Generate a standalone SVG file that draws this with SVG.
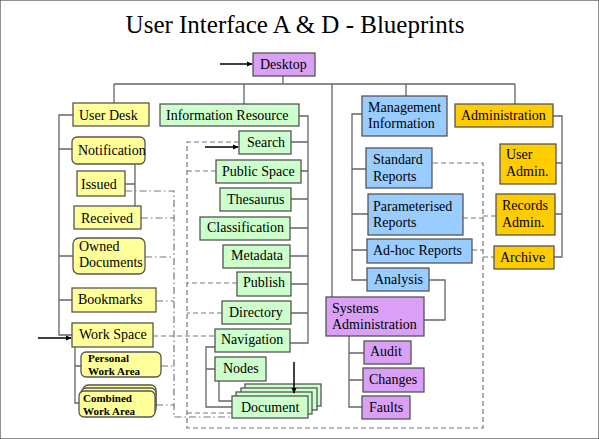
<svg xmlns="http://www.w3.org/2000/svg" width="599" height="439" viewBox="0 0 599 439">
<style>
text{font-family:"Liberation Serif","Times New Roman",serif;font-size:14px;fill:#000}
.t{font-size:25px}
.s{font-size:11px;font-weight:bold}
rect{stroke:#555;stroke-width:1.3}
.y{fill:#FFFF99}.g{fill:#CCFFCC}.b{fill:#99CCFF}.o{fill:#FFCC00}.p{fill:#D9A0F5}
.c{fill:none;stroke:#666;stroke-width:1.3}
.d{fill:none;stroke:#777;stroke-width:1.2;stroke-dasharray:5 3}
.dd{fill:none;stroke:#777;stroke-width:1.2;stroke-dasharray:7 3 1.5 3}
.a{fill:none;stroke:#000;stroke-width:1.5;marker-end:url(#ah)}
</style>
<defs>
<marker id="ah" viewBox="0 0 8 8" refX="7" refY="4" markerWidth="6" markerHeight="6" orient="auto" markerUnits="userSpaceOnUse"><path d="M0,0.5 L8,4 L0,7.5 Z" fill="#000"/></marker>
</defs>
<rect width="599" height="439" fill="#fff" stroke="none"/>
<text class="t" x="295" y="33" text-anchor="middle">User Interface A &amp; D - Blueprints</text>

<g id="connectors">
<path class="c" d="M114,84 H515 M283,76 V84 M114,84 V103 M244,84 V104 M332,84 V297 M406,84 V96 M515,84 V104"/>
<path class="c" d="M73,115 H59 V335 H72 M59,149 H72 M59,256 H73 M59,300 H72"/>
<path class="c" d="M135,164 V206 M125,184 H135"/>
<path class="c" d="M75,347 V403 H79 M75,366 H81"/>
<path class="c" d="M299,116 H308 V343 H290 M291,142 H308 M301,171 H308 M291,199 H308 M290,228 H308 M290,256 H308 M291,284 H308 M291,313 H308"/>
<path class="c" d="M215,347 H206 V407 H232 M206,369 H215 M219,381 V401 H236"/>
<path class="c" d="M362,114 H352 V280 H367 M352,169 H366 M352,214 H368 M352,250 H367"/>
<path class="c" d="M429,280 H445 V320 H424"/>
<path class="c" d="M349,336 V407 H362 M349,353 H364 M349,380 H363"/>
<path class="c" d="M553,116 H562 V257 H554 M556,163 H562 M555,214 H562"/>
<path class="d" d="M239,142 H187 V428 H483 V163 H432 M216,171 H187 M237,283 H187 M222,313 H187 M232,413 H187 M463,218 H483 M483,216 H496 M472,250 H483 M483,257 H494"/>
<path class="d" d="M153,336 H215"/>
<path class="dd" d="M125,191 H174 V417 H232 M141,218 H174 M145,257 H174 M156,301 H174 M161,366 H174 M156,405 H174"/>
</g>

<g id="desktop"><rect class="p" x="253" y="53" width="62" height="23"/><text x="260" y="69">Desktop</text></g>

<g id="user-desk"><rect class="y" x="73" y="103" width="76" height="23"/><text x="79" y="120">User Desk</text></g>
<g id="notification"><rect class="y" x="72" y="137" width="73" height="27" rx="5"/><text x="78" y="155">Notification</text></g>
<g id="issued"><rect class="y" x="77" y="171" width="48" height="25"/><text x="81" y="189">Issued</text></g>
<g id="received"><rect class="y" x="74" y="206" width="67" height="23"/><text x="81" y="223">Received</text></g>
<g id="owned-documents"><rect class="y" x="73" y="238" width="72" height="36" rx="6"/><text x="79" y="251">Owned</text><text x="79" y="267">Documents</text></g>
<g id="bookmarks"><rect class="y" x="72" y="288" width="84" height="24"/><text x="78" y="304">Bookmarks</text></g>
<g id="work-space"><rect class="y" x="72" y="323" width="81" height="24"/><text x="79" y="339">Work Space</text></g>
<g id="personal-work-area"><rect class="y" x="81" y="352" width="80" height="25" rx="5"/><text class="s" x="88" y="362">Personal</text><text class="s" x="88" y="375">Work Area</text></g>
<g id="combined-work-area"><rect class="y" x="83" y="385" width="73" height="26" rx="5"/><rect class="y" x="81" y="388" width="75" height="26" rx="5"/><rect class="y" x="79" y="391" width="76" height="26" rx="5"/><text class="s" x="83" y="402">Combined</text><text class="s" x="83" y="415">Work Area</text></g>

<g id="information-resource"><rect class="g" x="160" y="104" width="139" height="22"/><text x="166" y="120">Information Resource</text></g>
<g id="search"><rect class="g" x="239" y="131" width="52" height="23"/><text x="247" y="147">Search</text></g>
<g id="public-space"><rect class="g" x="216" y="160" width="85" height="23"/><text x="222" y="176">Public Space</text></g>
<g id="thesaurus"><rect class="g" x="220" y="188" width="71" height="23"/><text x="227" y="204">Thesaurus</text></g>
<g id="classification"><rect class="g" x="200" y="217" width="90" height="23"/><text x="207" y="232">Classification</text></g>
<g id="metadata"><rect class="g" x="223" y="245" width="67" height="23"/><text x="231" y="260">Metadata</text></g>
<g id="publish"><rect class="g" x="237" y="272" width="54" height="24"/><text x="243" y="287">Publish</text></g>
<g id="directory"><rect class="g" x="222" y="301" width="69" height="23"/><text x="229" y="317">Directory</text></g>
<g id="navigation"><rect class="g" x="215" y="329" width="75" height="23"/><text x="221" y="344">Navigation</text></g>
<g id="nodes"><rect class="g" x="215" y="357" width="51" height="24"/><text x="223" y="373">Nodes</text></g>
<g id="document"><rect class="g" x="245" y="384" width="76" height="22"/><rect class="g" x="241" y="388" width="76" height="22"/><rect class="g" x="236" y="392" width="76" height="22"/><rect class="g" x="232" y="396" width="76" height="22"/><text x="241" y="412">Document</text></g>

<g id="management-information"><rect class="b" x="362" y="96" width="85" height="40"/><text x="368" y="112">Management</text><text x="368" y="128">Information</text></g>
<g id="standard-reports"><rect class="b" x="366" y="148" width="66" height="40"/><text x="373" y="164">Standard</text><text x="373" y="181">Reports</text></g>
<g id="parameterised-reports"><rect class="b" x="368" y="194" width="95" height="41"/><text x="373" y="211">Parameterised</text><text x="373" y="227">Reports</text></g>
<g id="ad-hoc-reports"><rect class="b" x="367" y="239" width="105" height="24"/><text x="373" y="255">Ad-hoc Reports</text></g>
<g id="analysis"><rect class="b" x="367" y="268" width="62" height="23"/><text x="374" y="284">Analysis</text></g>

<g id="administration"><rect class="o" x="455" y="104" width="98" height="23"/><text x="461" y="120">Administration</text></g>
<g id="user-admin"><rect class="o" x="500" y="144" width="56" height="40"/><text x="506" y="159">User</text><text x="506" y="176">Admin.</text></g>
<g id="records-admin"><rect class="o" x="496" y="194" width="59" height="41"/><text x="502" y="210">Records</text><text x="502" y="227">Admin.</text></g>
<g id="archive"><rect class="o" x="494" y="246" width="60" height="23"/><text x="500" y="262">Archive</text></g>

<g id="systems-administration"><rect class="p" x="326" y="297" width="98" height="39"/><text x="332" y="313">Systems</text><text x="332" y="329">Administration</text></g>
<g id="audit"><rect class="p" x="364" y="341" width="47" height="23"/><text x="370" y="356">Audit</text></g>
<g id="changes"><rect class="p" x="363" y="368" width="61" height="24"/><text x="369" y="384">Changes</text></g>
<g id="faults"><rect class="p" x="362" y="396" width="48" height="23"/><text x="369" y="412">Faults</text></g>

<g id="arrows">
<path class="a" d="M220,64 H252"/>
<path class="a" d="M38,338 H71"/>
<path class="a" d="M205,147 H238"/>
<path class="a" d="M294,362 V393"/>
</g>
</svg>
